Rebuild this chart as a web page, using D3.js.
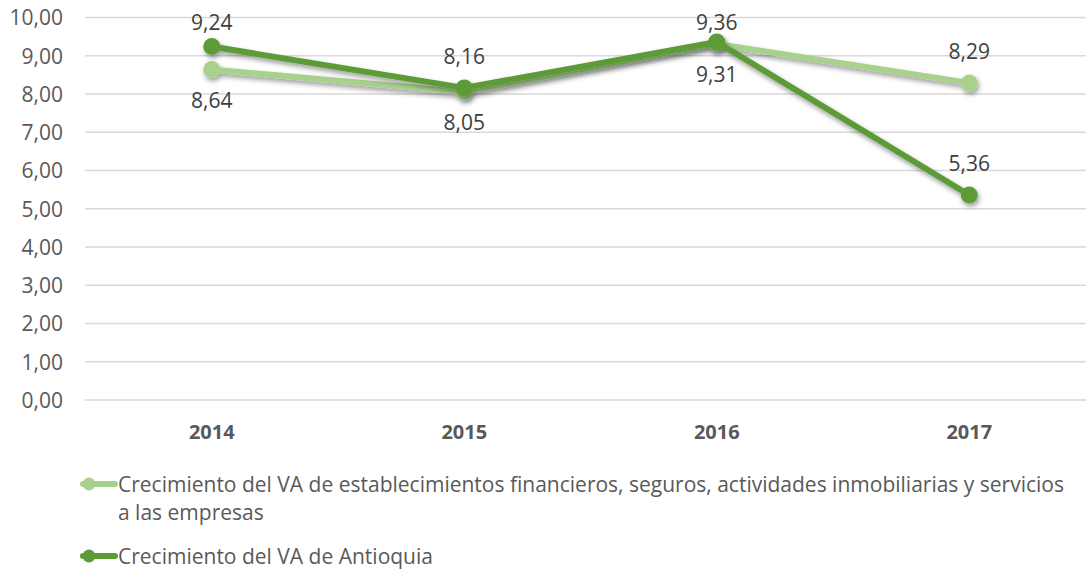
<!DOCTYPE html>
<html>
<head>
<meta charset="utf-8">
<script src="https://cdn.jsdelivr.net/npm/d3@7"></script>
<style>
  html, body { margin: 0; padding: 0; background: #fff; }
  svg { display: block; font-family: "Open Sans", sans-serif; }
</style>
</head>
<body>
<svg id="chart" width="1086" height="572"></svg>
<script>
// Categories and series
const years = ["2014", "2015", "2016", "2017"];
const sectorGrowth = [8.64, 8.05, 9.31, 8.29];
const antioquiaGrowth = [9.24, 8.16, 9.36, 5.36];
const yTicks = [0, 1, 2, 3, 4, 5, 6, 7, 8, 9, 10];
const sectorLabelSide = ["below", "below", "below", "above"];
const antioquiaLabelSide = ["above", "above", "above", "above"];
const legendLines = [
  ["Crecimiento del VA de establecimientos financieros, seguros, actividades inmobiliarias y servicios",
   "a las empresas"],
  ["Crecimiento del VA de Antioquia"]
];

const series = [
  { values: sectorGrowth, sides: sectorLabelSide, color: "#a9d18e", legend: legendLines[0] },
  { values: antioquiaGrowth, sides: antioquiaLabelSide, color: "#5b9b38", legend: legendLines[1] }
];

const svg = d3.select("#chart");
const fmt = v => d3.format(".2f")(v).replace(".", ",");

const x = d3.scaleBand().domain(years).range([85.5, 1095.5]);
const y = d3.scaleLinear().domain([0, 10]).range([400, 17.5]);
const cx = d => x(d) + x.bandwidth() / 2;

// soft drop shadow under lines and markers
const defs = svg.append("defs");
const f = defs.append("filter").attr("id", "shadow")
  .attr("x", "-10%").attr("y", "-30%").attr("width", "120%").attr("height", "160%");
f.append("feDropShadow").attr("dx", 1.5).attr("dy", 3).attr("stdDeviation", 2.6)
  .attr("flood-color", "#000").attr("flood-opacity", 0.4);

// horizontal gridlines
svg.append("g").selectAll("line").data(yTicks).join("line")
  .attr("x1", 85).attr("x2", 1095.5)
  .attr("y1", d => y(d)).attr("y2", d => y(d))
  .attr("stroke", "#d9d9d9").attr("stroke-width", 1.3);

// y axis labels
const yAxis = d3.axisLeft(y).tickValues(yTicks).tickFormat(fmt).tickSize(0).tickPadding(0);
const gy = svg.append("g").attr("transform", "translate(63,0)").call(yAxis);
gy.select(".domain").remove();
gy.selectAll("text").attr("fill", "#595959").style("font-size", "21px")
  .style("font-family", "'Open Sans', sans-serif").attr("dy", "0.35em");

// x axis labels
const xAxis = d3.axisBottom(x).tickSize(0).tickPadding(0);
const gx = svg.append("g").attr("transform", "translate(0,439)").call(xAxis);
gx.select(".domain").remove();
gx.selectAll("text").attr("fill", "#595959").attr("dy", 0).style("font-size", "20px")
  .style("font-weight", "bold").style("font-family", "'Open Sans', sans-serif");

// series lines and markers
const line = d3.line().x((d, i) => cx(years[i])).y(d => y(d));
series.forEach(s => {
  const g = svg.append("g").attr("filter", "url(#shadow)");
  g.append("path").attr("d", line(s.values)).attr("fill", "none")
    .attr("stroke", s.color).attr("stroke-width", 6).attr("stroke-linejoin", "round")
    .attr("stroke-linecap", "round");
  g.selectAll("circle").data(s.values).join("circle")
    .attr("cx", (d, i) => cx(years[i])).attr("cy", d => y(d)).attr("r", 8.5)
    .attr("fill", s.color);
});

// data labels
series.forEach(s => {
  svg.append("g").selectAll("text").data(s.values).join("text")
    .attr("x", (d, i) => cx(years[i]))
    .attr("y", (d, i) => s.sides[i] === "above" ? Math.max(y(d) - 24, 30) : y(d) + 38)
    .attr("text-anchor", "middle").attr("fill", "#404040").style("font-size", "21px")
    .text(fmt);
});

// legend
const legendRows = [484, 556];
series.forEach((s, k) => {
  const g = svg.append("g").attr("transform", `translate(0,${legendRows[k]})`);
  g.append("line").attr("x1", 83).attr("x2", 115).attr("y1", 0).attr("y2", 0)
    .attr("stroke", s.color).attr("stroke-width", 6).attr("stroke-linecap", "round");
  g.append("circle").attr("cx", 89).attr("cy", 0).attr("r", 6.5).attr("fill", s.color);
  s.legend.forEach((t, j) => {
    g.append("text").attr("x", 118).attr("y", 8 + j * 28)
      .attr("fill", "#595959").style("font-size", "21px").text(t);
  });
});
</script>
</body>
</html>
